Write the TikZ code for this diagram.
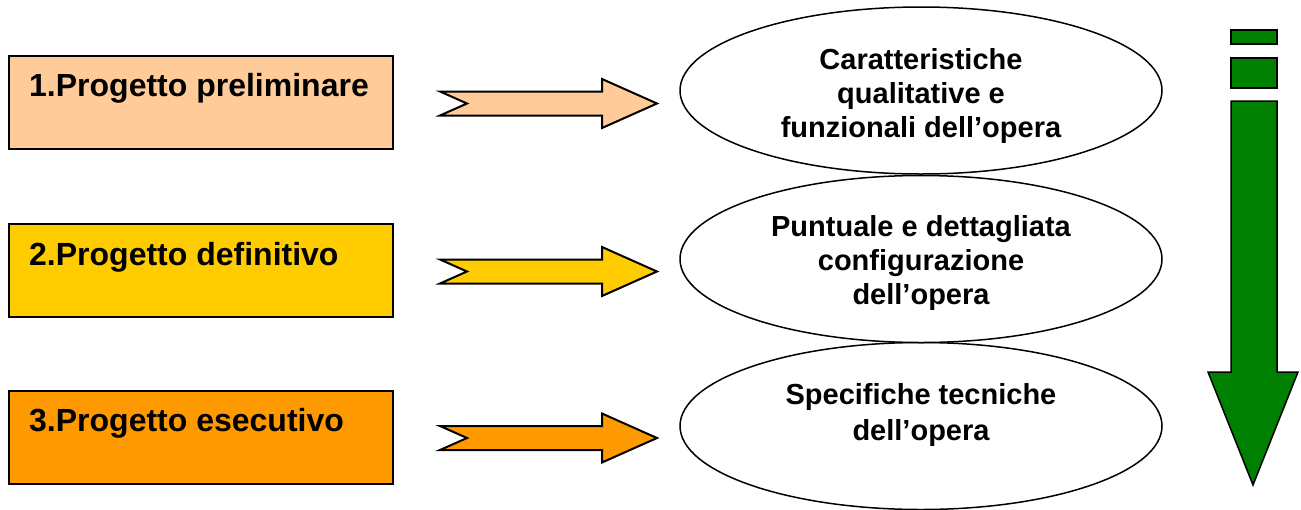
\documentclass[tikz,border=0pt]{standalone}
\usepackage{fontspec}
\setmainfont{Liberation Sans}
\usetikzlibrary{shapes.geometric}
\definecolor{peach}{HTML}{FFCC99}
\definecolor{gold}{HTML}{FFCC00}
\definecolor{amber}{HTML}{FF9900}
\definecolor{deepgreen}{HTML}{008000}
\tikzset{
  phase/.style={draw=black, line width=2pt, minimum width=384pt, minimum height=93pt, inner sep=0pt, anchor=north west},
  phaselabel/.style={anchor=base west, inner sep=0pt, font=\fontsize{32}{38}\selectfont\bfseries},
  goal/.style={ellipse, draw=black, fill=white, line width=1.5pt, minimum width=482pt, minimum height=167pt, inner sep=0pt},
  goallabel/.style={align=center, inner sep=0pt, font=\fontsize{29}{34}\selectfont\bfseries},
  arrowline/.style={draw=black, line width=2pt, line join=miter},
  pics/notcharrow/.style={code={
    \path[arrowline, fill=#1] (0,-12) -- (162,-12) -- (162,-24.5) -- (217,0)
      -- (162,24.5) -- (162,12) -- (0,12) -- (27,0) -- cycle;
  }},
  greenpart/.style={draw=black, line width=1.5pt, fill=deepgreen, line join=miter}
}
\begin{document}
\begin{tikzpicture}[x=1pt, y=-1pt]
\useasboundingbox (0,0) rectangle (1301,509);

% project phases
\node[phase, fill=peach] (b1) at (8,55) {};
\node[phase, fill=gold]  (b2) at (8,223) {};
\node[phase, fill=amber] (b3) at (8,390) {};
\node[phaselabel] (l1) at (29,96)  {1.Progetto preliminare};
\node[phaselabel] (l2) at (29,265) {2.Progetto definitivo};
\node[phaselabel] (l3) at (29,431) {3.Progetto esecutivo};

% block arrows
\pic at (440,103.5) {notcharrow=peach};
\pic at (440,271.5) {notcharrow=gold};
\pic at (440,438)   {notcharrow=amber};

% contents of each phase
\node[goal] (e3) at (921,426) {};
\node[goal] (e2) at (921,259) {};
\node[goal] (e1) at (921,90.5) {};
\node[goallabel] (t1) at (921,96)  {Caratteristiche\\qualitative e\\funzionali dell’opera};
\node[goallabel] (t2) at (921,263) {Puntuale e dettagliata\\configurazione\\dell’opera};
\node[goallabel, font=\fontsize{29}{36}\selectfont\bfseries] (t3) at (921,415) {Specifiche tecniche\\dell’opera};

% growing level of detail
\path[greenpart] (1231,30) rectangle (1277,44);
\path[greenpart] (1231,58) rectangle (1277,88);
\path[greenpart] (1231,101) -- (1277,101) -- (1277,372) -- (1298,372) -- (1253,485)
  -- (1208,372) -- (1231,372) -- cycle;
\end{tikzpicture}
\end{document}
